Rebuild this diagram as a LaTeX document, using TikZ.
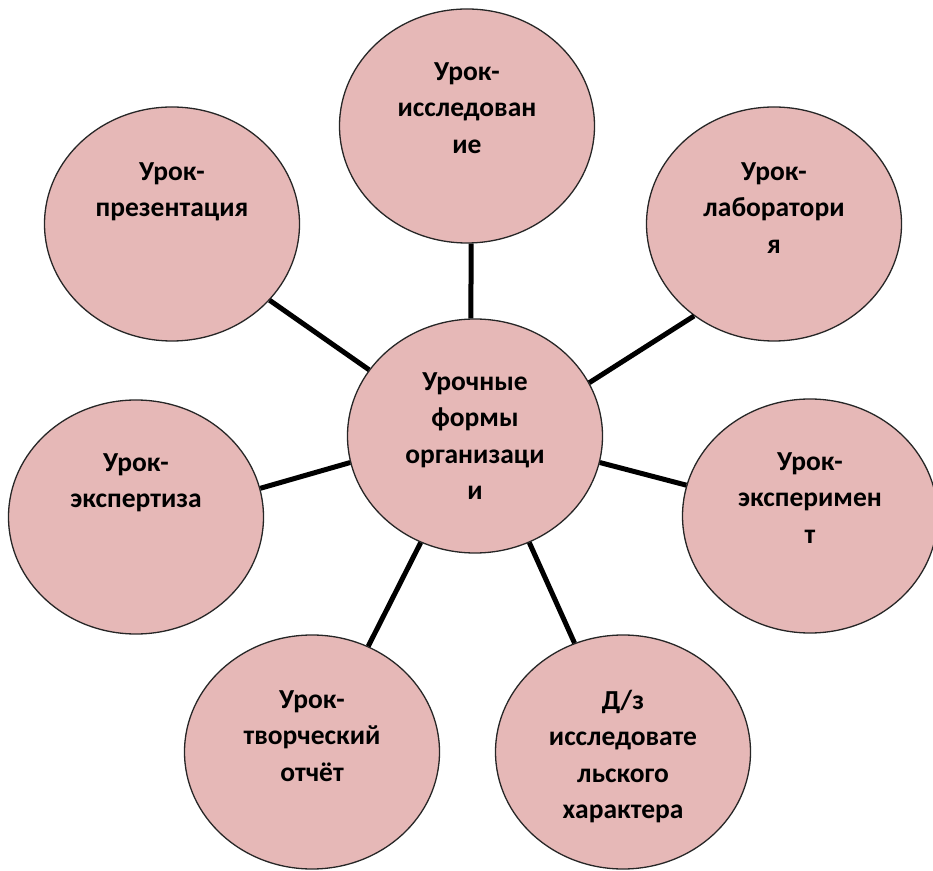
\documentclass[tikz,border=0pt]{standalone}
\usepackage{fontspec}
\setmainfont{Carlito}
\usetikzlibrary{positioning,calc,shapes.geometric}
\definecolor{rose}{HTML}{E6B8B7}
\tikzset{
  bubble/.style={ellipse,draw=black!85,line width=1.3pt,fill=rose,
    minimum width=255pt,minimum height=234pt,inner sep=0pt},
  btext/.style={anchor=north,align=center,inner sep=0pt,
    font=\bfseries\fontsize{27.5}{36.5}\selectfont,
    execute at begin node={\rule{0pt}{22pt}}},
  link/.style={line width=5pt}
}

\begin{document}
\begin{tikzpicture}[x=1pt,y=1pt]
\useasboundingbox (0,0) rectangle (933,870);
\node[bubble] (O) at (475,434) {};
\node[bubble] (Is) at (467,744) {};
\node[bubble] (Pr) at (172,646) {};
\node[bubble] (La) at (774,646) {};
\node[bubble] (Ez) at (136,353) {};
\node[bubble] (Em) at (810,354) {};
\node[bubble] (Tv) at (312,118) {};
\node[bubble] (Dz) at (623,118) {};
\node[btext] (Ot) at ([yshift=64pt]O.center) {Урочные\\формы\\организаци\\и};
\node[btext] (Ist) at ([yshift=64pt]Is.center) {Урок-\\исследован\\ие};
\node[btext] (Prt) at ([yshift=62pt]Pr.center) {Урок-\\презентация};
\node[btext] (Lat) at ([yshift=62pt]La.center) {Урок-\\лаборатори\\я};
\node[btext] (Ezt) at ([yshift=64pt]Ez.center) {Урок-\\экспертиза};
\node[btext] (Emt) at ([yshift=64pt]Em.center) {Урок-\\эксперимен\\т};
\node[btext] (Tvt) at ([yshift=62pt]Tv.center) {Урок-\\творческий\\отчёт};
\node[btext] (Dzt) at ([yshift=62pt]Dz.center) {Д/з\\исследовате\\льского\\характера};
\draw[link] (O.92) -- (Is.-88);
\draw[link] (O.148) -- (Pr.-38);
\draw[link] (O.25) -- (La.-131);
\draw[link] (O.-12) -- (Em.166);
\draw[link] (O.-168) -- (Ez.13);
\draw[link] (O.-117) -- (Tv.62);
\draw[link] (O.-63) -- (Dz.114);
\end{tikzpicture}
\end{document}
